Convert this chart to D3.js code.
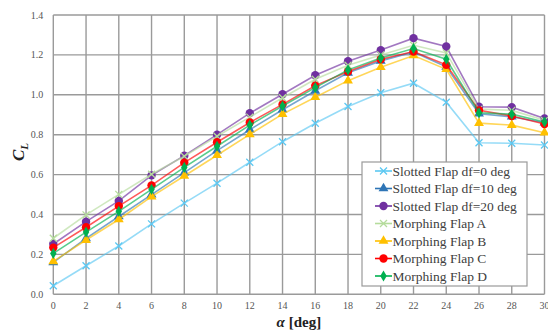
<!DOCTYPE html>
<html lang="en">
<head>
<meta charset="UTF-8">
<title>CL vs alpha</title>
<script src="https://d3js.org/d3.v7.min.js"></script>
<style>
  body { margin: 0; background: #fff; }
</style>
</head>
<body>
<div id="chart"></div>
<script>
// angle of attack [deg]
var alpha = [0, 2, 4, 6, 8, 10, 12, 14, 16, 18, 20, 22, 24, 26, 28, 30];

var slotted0  = [0.043, 0.143, 0.242, 0.353, 0.457, 0.557, 0.662, 0.765, 0.857, 0.941, 1.010, 1.058, 0.963, 0.760, 0.757, 0.748];
var slotted10 = [0.160, 0.280, 0.390, 0.500, 0.610, 0.720, 0.825, 0.925, 1.020, 1.110, 1.170, 1.215, 1.140, 0.905, 0.890, 0.860];
var slotted20 = [0.252, 0.364, 0.468, 0.596, 0.695, 0.800, 0.908, 1.003, 1.098, 1.168, 1.224, 1.284, 1.242, 0.940, 0.938, 0.881];
var morphA    = [0.281, 0.398, 0.501, 0.602, 0.692, 0.792, 0.888, 0.985, 1.078, 1.148, 1.200, 1.248, 1.210, 0.928, 0.922, 0.872];
var morphB    = [0.165, 0.272, 0.375, 0.490, 0.593, 0.697, 0.802, 0.903, 0.988, 1.071, 1.138, 1.197, 1.128, 0.858, 0.848, 0.810];
var morphC    = [0.234, 0.336, 0.442, 0.546, 0.660, 0.762, 0.861, 0.952, 1.045, 1.117, 1.178, 1.217, 1.150, 0.922, 0.894, 0.854];
var morphD    = [0.205, 0.312, 0.416, 0.526, 0.636, 0.742, 0.848, 0.944, 1.036, 1.125, 1.184, 1.232, 1.178, 0.910, 0.903, 0.864];

var seriesNames = ["Slotted Flap df=0 deg", "Slotted Flap df=10 deg", "Slotted Flap df=20 deg",
                   "Morphing Flap A", "Morphing Flap B", "Morphing Flap C", "Morphing Flap D"];
var seriesValues = [slotted0, slotted10, slotted20, morphA, morphB, morphC, morphD];
var seriesColors = ["#5cc8f2", "#2e75b6", "#7030a0", "#b5dc9c", "#ffc000", "#ff0000", "#00b050"];
var seriesMarkers = ["cross", "triangle", "circle", "cross", "triangle", "circle", "diamond"];

var xTicks = [0, 2, 4, 6, 8, 10, 12, 14, 16, 18, 20, 22, 24, 26, 28, 30];
var yTicks = [0.0, 0.2, 0.4, 0.6, 0.8, 1.0, 1.2, 1.4];

var W = 548, H = 331;
var margin = {top: 15, right: 3.5, bottom: 36.7, left: 53.3};
var width = W - margin.left - margin.right;
var height = H - margin.top - margin.bottom;
var serif = "'Liberation Serif', 'Times New Roman', Times, serif";

var svg = d3.select("#chart").append("svg")
    .attr("width", W)
    .attr("height", H)
    .attr("font-family", serif);

var g = svg.append("g")
    .attr("transform", "translate(" + margin.left + "," + margin.top + ")");

var x = d3.scaleLinear().domain([0, 30]).range([0, width]);
var y = d3.scaleLinear().domain([0, 1.4]).range([height, 0]);

// grid
g.selectAll(".vgrid").data(xTicks).enter().append("line")
    .attr("x1", d => x(d)).attr("x2", d => x(d))
    .attr("y1", 0).attr("y2", height)
    .attr("stroke", "#9a9a9a").attr("stroke-width", 1.4);
g.selectAll(".hgrid").data(yTicks).enter().append("line")
    .attr("y1", d => y(d)).attr("y2", d => y(d))
    .attr("x1", 0).attr("x2", width)
    .attr("stroke", "#9a9a9a").attr("stroke-width", 1.4);

// tick labels
g.selectAll(".xlab").data(xTicks).enter().append("text")
    .attr("x", d => x(d)).attr("y", height + 15)
    .attr("text-anchor", "middle")
    .attr("font-size", "10px").attr("fill", "#555")
    .text(d => d);
g.selectAll(".ylab").data(yTicks).enter().append("text")
    .attr("x", -10).attr("y", d => y(d) + 3.5)
    .attr("text-anchor", "end")
    .attr("font-size", "10px").attr("fill", "#555")
    .text(d => d.toFixed(1));

// axis titles
var xt = svg.append("text")
    .attr("x", margin.left + width / 2).attr("y", 327)
    .attr("text-anchor", "middle")
    .attr("font-size", "15px").attr("font-weight", "bold").attr("fill", "#222");
xt.append("tspan").attr("font-style", "italic").text("α");
xt.append("tspan").text(" [deg]");

var yt = svg.append("text")
    .attr("transform", "translate(24,152) rotate(-90)")
    .attr("text-anchor", "middle")
    .attr("font-size", "17px").attr("font-weight", "bold").attr("font-style", "italic").attr("fill", "#222");
yt.append("tspan").text("C");
yt.append("tspan").attr("font-size", "11px").attr("dy", 4).text("L");

var line = d3.line()
    .x((d, i) => x(alpha[i]))
    .y(d => y(d));

function drawMarker(sel, type, color) {
    if (type === "cross") {
        sel.append("path")
            .attr("d", "M-3.5,-3.5L3.5,3.5M-3.5,3.5L3.5,-3.5")
            .attr("stroke", color).attr("stroke-width", 1.3).attr("fill", "none");
    } else if (type === "triangle") {
        sel.append("path")
            .attr("d", d3.symbol().type(d3.symbolTriangle).size(42)())
            .attr("fill", color);
    } else if (type === "circle") {
        sel.append("circle").attr("r", 4.2).attr("fill", color);
    } else {
        sel.append("path")
            .attr("d", d3.symbol().type(d3.symbolDiamond).size(36)())
            .attr("fill", color);
    }
}

var marks = g.append("g");
seriesValues.forEach(function (vals, s) {
    var sg = marks.append("g");
    sg.append("path")
        .attr("d", line(vals))
        .attr("fill", "none")
        .attr("stroke", seriesColors[s])
        .attr("stroke-opacity", 0.65)
        .attr("stroke-width", 1.6);
    vals.forEach(function (v, i) {
        var m = sg.append("g").attr("transform", "translate(" + x(alpha[i]) + "," + y(v) + ")");
        drawMarker(m, seriesMarkers[s], seriesColors[s]);
    });
});

// legend
var lx = 362, ly = 162, lw = 165, lh = 124;
var legend = svg.append("g");
legend.append("rect")
    .attr("x", lx).attr("y", ly).attr("width", lw).attr("height", lh)
    .attr("fill", "#fff").attr("stroke", "#9a9a9a").attr("stroke-width", 1.2);

seriesNames.forEach(function (name, s) {
    var cy = ly + 9 + s * 17.5;
    var row = legend.append("g");
    row.append("line")
        .attr("x1", lx + 13).attr("x2", lx + 30)
        .attr("y1", cy).attr("y2", cy)
        .attr("stroke", seriesColors[s]).attr("stroke-width", 1.6);
    var m = row.append("g").attr("transform", "translate(" + (lx + 21.5) + "," + cy + ")");
    drawMarker(m, seriesMarkers[s], seriesColors[s]);
    row.append("text")
        .attr("x", lx + 30.5).attr("y", cy + 4.5)
        .attr("font-size", "13.5px").attr("fill", "#404040")
        .text(name);
});
</script>
</body>
</html>
